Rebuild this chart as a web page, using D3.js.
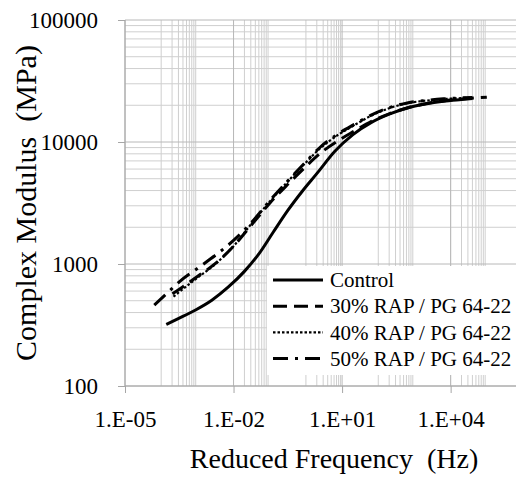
<!DOCTYPE html>
<html lang="en"><head>
<meta charset="utf-8">
<title>Complex Modulus master curves</title>
<script type="text/javascript" src="https://d3js.org/d3.v7.min.js"></script>
<style type="text/css">
	body { margin: 0; background: #fff; }
</style>
<script>
	// log10 of reduced frequency (Hz) and complex modulus (MPa)
	const controlLogF = [-3.86, -3.5, -3.05, -2.6, -2.15, -1.7, -1.3, -0.9, -0.5, -0.1, 0.3, 0.8, 1.3, 1.8, 2.3, 2.8, 3.3, 3.8, 4.3, 4.6];
	const controlE = [320, 360, 420, 505, 645, 870, 1210, 1830, 2750, 3950, 5500, 8400, 11500, 14400, 16900, 19000, 20500, 21600, 22300, 22700];

	const rap30LogF = [-3.69, -3.5, -3.0, -2.5, -2.0, -1.5, -1.0, -0.5, 0.0, 0.4, 0.9, 1.34, 1.8, 2.3, 2.8, 3.3, 3.8, 4.3, 5.0];
	const rap30E = [570, 620, 790, 1010, 1400, 2100, 3150, 4500, 6300, 8100, 10300, 12300, 14700, 17000, 19000, 20600, 21700, 22500, 23300];

	const rap40LogF = [-3.66, -3.5, -3.0, -2.5, -2.0, -1.5, -1.0, -0.5, 0.0, 0.4, 0.9, 1.35, 1.8, 2.3, 2.8, 3.3, 3.8, 4.3, 4.6];
	const rap40E = [540, 590, 770, 1000, 1400, 2150, 3250, 4750, 6800, 8900, 11500, 13800, 16400, 18900, 20800, 21800, 22500, 22900, 23100];

	const rap50LogF = [-4.19, -3.8, -3.5, -3.0, -2.5, -2.0, -1.5, -1.0, -0.5, 0.0, 0.4, 0.9, 1.35, 1.8, 2.3, 2.8, 3.3, 3.8, 4.3, 4.6];
	const rap50E = [460, 590, 715, 920, 1180, 1560, 2200, 3300, 4800, 6900, 9100, 11700, 14000, 16600, 19100, 20900, 21900, 22600, 23000, 23200];

	const seriesNames = ["Control", "30% RAP / PG 64-22", "40% RAP / PG 64-22", "50% RAP / PG 64-22"];
	const seriesDash = [null, "14,7", "2.5,2", "15,7,3,7"];
	const seriesWidth = [3, 3, 2.2, 3];

	const xTicks = [1e-5, 1e-2, 1e1, 1e4];
	const xTickLabels = ["1.E-05", "1.E-02", "1.E+01", "1.E+04"];
	const yTicks = [100, 1000, 10000, 100000];
	const yTickLabels = ["100", "1000", "10000", "100000"];

	const chartW = 516;
	const chartH = 481;
	const plotL = 125, plotR = 523, plotT = 20, plotB = 386;
	const serif = "'Liberation Serif'";
</script>
</head>
<body>
<script type="text/javascript">
	const svg = d3.select("body").append("svg")
		.attr("width", chartW)
		.attr("height", chartH);

	const xScale = d3.scaleLog().domain([1e-5, 1e6]).range([plotL, plotR]);
	const yScale = d3.scaleLog().domain([100, 100000]).range([plotB, plotT]);

	// minor vertical grid: Excel draws them every other decade
	const xMinor = [];
	[-4, -2, 0, 2, 4].forEach((n) => {
		for (let k = 1; k <= 9; k++) xMinor.push(k * Math.pow(10, n));
	});
	const yMinor = [];
	[2, 3, 4].forEach((n) => {
		for (let k = 2; k <= 9; k++) yMinor.push(k * Math.pow(10, n));
	});

	const grid = svg.append("g");
	grid.selectAll("line.xm").data(xMinor).enter().append("line")
		.attr("x1", (d) => xScale(d)).attr("x2", (d) => xScale(d))
		.attr("y1", plotT).attr("y2", plotB)
		.attr("stroke", "#cfcfcf").attr("stroke-width", 1);
	grid.selectAll("line.ym").data(yMinor).enter().append("line")
		.attr("x1", plotL).attr("x2", chartW)
		.attr("y1", (d) => yScale(d)).attr("y2", (d) => yScale(d))
		.attr("stroke", "#cfcfcf").attr("stroke-width", 1);
	grid.selectAll("line.xM").data(xTicks).enter().append("line")
		.attr("x1", (d) => xScale(d)).attr("x2", (d) => xScale(d))
		.attr("y1", plotT).attr("y2", plotB)
		.attr("stroke", "#b8b8b8").attr("stroke-width", 1);
	grid.selectAll("line.yM").data(yTicks).enter().append("line")
		.attr("x1", plotL).attr("x2", chartW)
		.attr("y1", (d) => yScale(d)).attr("y2", (d) => yScale(d))
		.attr("stroke", "#b8b8b8").attr("stroke-width", 1);

	// axes
	const xAxis = d3.axisBottom(xScale).tickValues(xTicks).tickSize(7).tickFormat((d, i) => xTickLabels[i]);
	const yAxis = d3.axisLeft(yScale).tickValues(yTicks).tickSize(7).tickFormat((d, i) => yTickLabels[i]);

	const gx = svg.append("g")
		.attr("transform", "translate(0," + plotB + ")")
		.call(xAxis);
	gx.select(".domain").remove();
	gx.append("line").attr("x1", plotL).attr("x2", chartW).attr("stroke", "#a6a6a6");
	gx.selectAll(".tick line").attr("stroke", "#a6a6a6");
	gx.selectAll(".tick text")
		.style("font-family", serif).style("font-size", "23px")
		.attr("fill", "#000").attr("dy", null).attr("y", 41);

	const gy = svg.append("g")
		.attr("transform", "translate(" + plotL + ",0)")
		.call(yAxis);
	gy.select(".domain").remove();
	gy.append("line").attr("y1", plotT).attr("y2", plotB).attr("stroke", "#a6a6a6");
	gy.selectAll(".tick line").attr("stroke", "#a6a6a6");
	gy.selectAll(".tick text")
		.style("font-family", serif).style("font-size", "23px")
		.attr("fill", "#000").attr("x", -27).attr("dy", "0.33em");

	// curves
	const series = [
		controlLogF.map((f, i) => [Math.pow(10, f), controlE[i]]),
		rap30LogF.map((f, i) => [Math.pow(10, f), rap30E[i]]),
		rap40LogF.map((f, i) => [Math.pow(10, f), rap40E[i]]),
		rap50LogF.map((f, i) => [Math.pow(10, f), rap50E[i]])
	];
	const line = d3.line()
		.x((d) => xScale(d[0]))
		.y((d) => yScale(d[1]))
		.curve(d3.curveMonotoneX);

	svg.selectAll("path.curve").data(series).enter().append("path")
		.attr("class", "curve")
		.attr("d", line)
		.attr("fill", "none")
		.attr("stroke", "#000")
		.attr("stroke-width", (d, i) => seriesWidth[i])
		.attr("stroke-dasharray", (d, i) => seriesDash[i]);

	// legend
	const legend = svg.append("g");
	legend.append("rect")
		.attr("x", 267).attr("y", 266).attr("width", chartW - 267).attr("height", 109)
		.attr("fill", "#fff");
	const rows = legend.selectAll("g.row").data(seriesNames).enter().append("g")
		.attr("transform", (d, i) => "translate(0," + (280 + i * 26.2) + ")");
	rows.append("line")
		.attr("x1", 273).attr("x2", 323)
		.attr("stroke", "#000")
		.attr("stroke-width", (d, i) => seriesWidth[i])
		.attr("stroke-dasharray", (d, i) => seriesDash[i]);
	rows.append("text")
		.attr("x", 330).attr("dy", "0.34em")
		.style("font-family", serif).style("font-size", "21px")
		.text((d) => d);

	// axis titles
	svg.append("text")
		.attr("x", 334).attr("y", 468)
		.attr("text-anchor", "middle")
		.style("font-family", serif).style("font-size", "28px")
		.style("white-space", "pre")
		.text("Reduced Frequency  (Hz)");

	svg.append("text")
		.attr("transform", "translate(36,203) rotate(-90)")
		.attr("text-anchor", "middle")
		.style("font-family", serif).style("font-size", "30px")
		.style("white-space", "pre")
		.text("Complex Modulus  (MPa)");
</script>
</body></html>
